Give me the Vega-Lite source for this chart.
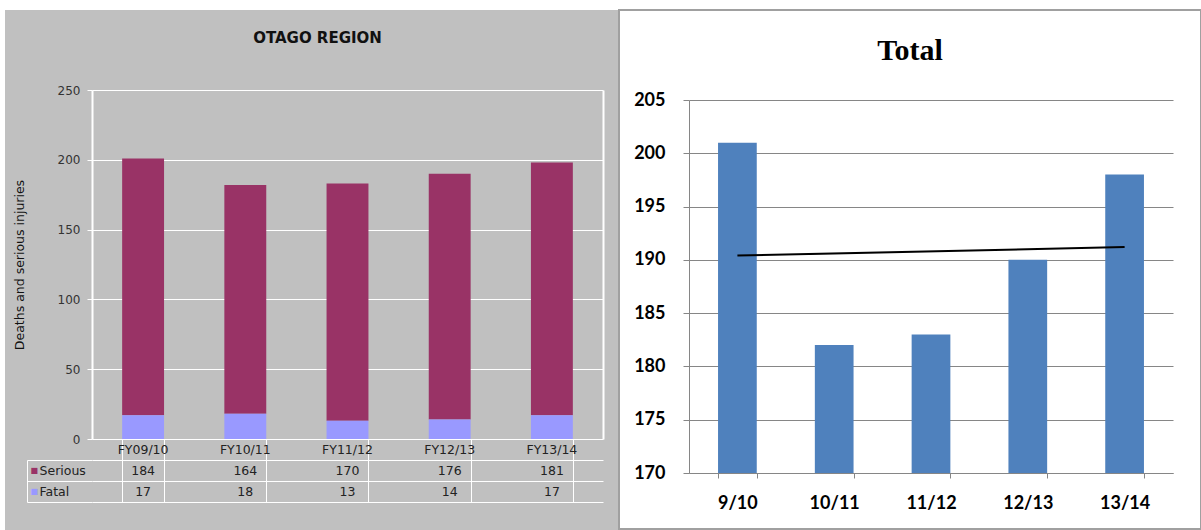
{
  "$schema": "https://vega.github.io/schema/vega-lite/v6.json",
  "background": "white",
  "padding": {"left": 5, "top": 4, "right": 0, "bottom": 0},
  "config": {"view": {"stroke": null}, "font": "DejaVu Sans"},
  "datasets": {
    "otago": [
      {"year": "FY09/10", "series": "Serious", "value": 184},
      {"year": "FY10/11", "series": "Serious", "value": 164},
      {"year": "FY11/12", "series": "Serious", "value": 170},
      {"year": "FY12/13", "series": "Serious", "value": 176},
      {"year": "FY13/14", "series": "Serious", "value": 181},
      {"year": "FY09/10", "series": "Fatal", "value": 17},
      {"year": "FY10/11", "series": "Fatal", "value": 18},
      {"year": "FY11/12", "series": "Fatal", "value": 13},
      {"year": "FY12/13", "series": "Fatal", "value": 14},
      {"year": "FY13/14", "series": "Fatal", "value": 17}
    ],
    "total": [
      {"period": "9/10", "total": 201},
      {"period": "10/11", "total": 182},
      {"period": "11/12", "total": 183},
      {"period": "12/13", "total": 190},
      {"period": "13/14", "total": 198}
    ],
    "trend": [
      {"period": "9/10", "trend": 190.4},
      {"period": "13/14", "trend": 191.2}
    ]
  },
  "spacing": 1,
  "bounds": "flush",
  "hconcat": [
    {
      "width": 613,
      "height": 520,
      "view": {"fill": "#C0C0C0", "stroke": null},
      "title": {"text": "OTAGO REGION", "font": "DejaVu Sans", "fontSize": 15, "fontWeight": "bold", "color": "#111111", "anchor": "middle", "frame": "group", "offset": -27, "baseline": "middle", "dx": 6, "dy": 22},
      "data": {"name": "otago"},
      "resolve": {"scale": {"y": "independent"}, "axis": {"y": "independent"}},
      "layer": [
        {
          "mark": {"type": "bar"},
          "encoding": {
            "x": {"field": "year", "type": "nominal", "sort": null,
              "scale": {"domain": ["FY09/10", "FY10/11", "FY11/12", "FY12/13", "FY13/14"], "range": [87, 598], "paddingInner": 0.59, "paddingOuter": 0.295},
              "axis": {"orient": "bottom", "offset": -91, "tickBand": "extent", "ticks": true, "tickColor": "white", "tickSize": 63, "tickWidth": 1, "labels": false, "domain": false, "grid": false, "title": null}},
            "y": {"field": "value", "type": "quantitative", "stack": "zero",
              "scale": {"domain": [0, 250], "range": [429, 80], "nice": false, "zero": true},
              "axis": {"orient": "left", "offset": -87, "values": [0, 50, 100, 150, 200, 250], "grid": true, "gridColor": "white", "gridWidth": 1, "gridOpacity": 1, "domain": true, "domainColor": "white", "domainWidth": 2, "ticks": true, "tickColor": "white", "tickSize": 5, "tickWidth": 1, "labelPadding": 7, "labelFont": "DejaVu Sans", "labelFontSize": 12, "labelColor": "#333333", "title": "Deaths and serious injuries", "titleFont": "DejaVu Sans", "titleFontSize": 12.5, "titleFontWeight": "normal", "titleColor": "#111111", "titlePadding": 31}},
            "color": {"field": "series", "type": "nominal", "scale": {"domain": ["Serious", "Fatal"], "range": ["#993366", "#9999FF"]}, "legend": null},
            "order": {"field": "series", "sort": "ascending"}
          }
        },
        {
          "mark": {"type": "bar", "opacity": 0},
          "encoding": {
            "x": {"field": "year", "type": "nominal"},
            "y": {"field": "value", "type": "quantitative", "stack": "zero",
              "scale": {"domain": [0, 250], "range": [429, 80], "nice": false, "zero": true},
              "axis": {"orient": "right", "offset": -15, "domain": true, "domainColor": "white", "domainWidth": 2, "ticks": false, "labels": false, "grid": false, "title": null}}
          }
        },
        {
          "mark": {"type": "text", "font": "DejaVu Sans", "fontSize": 12.5, "color": "#222222"},
          "encoding": {
            "x": {"field": "year", "type": "nominal"},
            "y": {"field": "series", "type": "nominal",
              "scale": {"type": "band", "domain": ["hdr", "Serious", "Fatal"], "range": [429, 492], "paddingInner": 0, "paddingOuter": 0},
              "axis": {"orient": "left", "offset": -87, "values": ["Serious", "Fatal"], "tickBand": "extent", "ticks": true, "tickColor": "white", "tickSize": 65, "tickWidth": 1, "grid": true, "gridColor": "white", "gridWidth": 1, "gridOpacity": 1, "domain": false, "labels": true, "labelAlign": "left", "labelPadding": -12, "labelFont": "DejaVu Sans", "labelFontSize": 12.5, "labelColor": "#222222", "title": null}},
            "text": {"field": "value", "type": "quantitative"}
          }
        },
        {
          "mark": {"type": "text", "opacity": 0},
          "encoding": {
            "x": {"field": "year", "type": "nominal"},
            "y": {"field": "series", "type": "nominal",
              "scale": {"type": "band", "domain": ["hdr", "Serious", "Fatal"], "range": [429, 492], "paddingInner": 0, "paddingOuter": 0},
              "axis": {"orient": "left", "offset": -87, "values": ["Serious", "Fatal"], "ticks": false, "grid": false, "domain": false, "labelExpr": "'■'", "labelAlign": "left", "labelPadding": 62, "labelFontSize": 8, "labelColor": {"condition": {"test": "datum.value === 'Serious'", "value": "#993366"}, "value": "#9999FF"}, "title": null}},
            "text": {"field": "value", "type": "quantitative"}
          }
        },
        {
          "mark": {"type": "text", "opacity": 0},
          "encoding": {
            "x": {"field": "year", "type": "nominal"},
            "y": {"field": "series", "type": "nominal",
              "scale": {"type": "band", "domain": ["Serious", "Fatal"], "range": [450, 492], "paddingInner": 0, "paddingOuter": 0},
              "axis": {"orient": "left", "offset": -22, "domain": true, "domainColor": "white", "domainWidth": 1, "ticks": false, "labels": false, "grid": false, "title": null}},
            "text": {"field": "value", "type": "quantitative"}
          }
        },
        {
          "transform": [{"filter": "datum.series === 'Fatal'"}],
          "mark": {"type": "text", "font": "DejaVu Sans", "fontSize": 12.5, "color": "#222222"},
          "encoding": {
            "x": {"field": "year", "type": "nominal"},
            "y": {"datum": "hdr", "type": "nominal",
              "scale": {"type": "band", "domain": ["hdr", "Serious", "Fatal"], "range": [429, 492], "paddingInner": 0, "paddingOuter": 0},
              "axis": null},
            "text": {"field": "year", "type": "nominal"}
          }
        }
      ]
    },
    {
      "width": 582,
      "height": 519,
      "view": {"fill": "white", "stroke": "#A0A0A0", "strokeWidth": 2},
      "title": {"text": "Total", "font": "Liberation Serif", "fontSize": 30, "fontWeight": "bold", "color": "#000000", "anchor": "middle", "frame": "group", "offset": -40, "baseline": "middle", "dy": 31},
      "layer": [
        {
          "data": {"name": "total"},
          "mark": {"type": "bar", "color": "#4F81BD"},
          "encoding": {
            "x": {"field": "period", "type": "nominal", "sort": null,
              "scale": {"domain": ["9/10", "10/11", "11/12", "12/13", "13/14"], "range": [70, 554], "paddingInner": 0.6, "paddingOuter": 0.3},
              "axis": {"orient": "bottom", "offset": -56, "tickBand": "extent", "ticks": true, "tickSize": 5, "tickColor": "#868686", "tickWidth": 1, "domain": true, "domainColor": "#868686", "domainWidth": 1, "grid": false, "labelFont": "Lato", "labelFontSize": 18, "labelFontWeight": "bold", "labelColor": "#000000", "labelPadding": 16, "labelAngle": 0, "title": null}},
            "y": {"field": "total", "type": "quantitative",
              "scale": {"domain": [170, 205], "range": [463, 90], "nice": false, "zero": false},
              "axis": {"orient": "left", "offset": -70, "values": [170, 175, 180, 185, 190, 195, 200, 205], "grid": true, "gridColor": "#868686", "gridWidth": 1, "gridOpacity": 1, "domain": true, "domainColor": "#868686", "domainWidth": 1, "ticks": true, "tickSize": 6, "tickColor": "#868686", "labelFont": "Lato", "labelFontSize": 18, "labelFontWeight": "bold", "labelColor": "#000000", "labelPadding": 18, "title": null}},
            "y2": {"datum": 170}
          }
        },
        {
          "data": {"name": "trend"},
          "mark": {"type": "line", "color": "#000000", "strokeWidth": 2},
          "encoding": {
            "x": {"field": "period", "type": "nominal"},
            "y": {"field": "trend", "type": "quantitative"}
          }
        }
      ]
    }
  ]
}
